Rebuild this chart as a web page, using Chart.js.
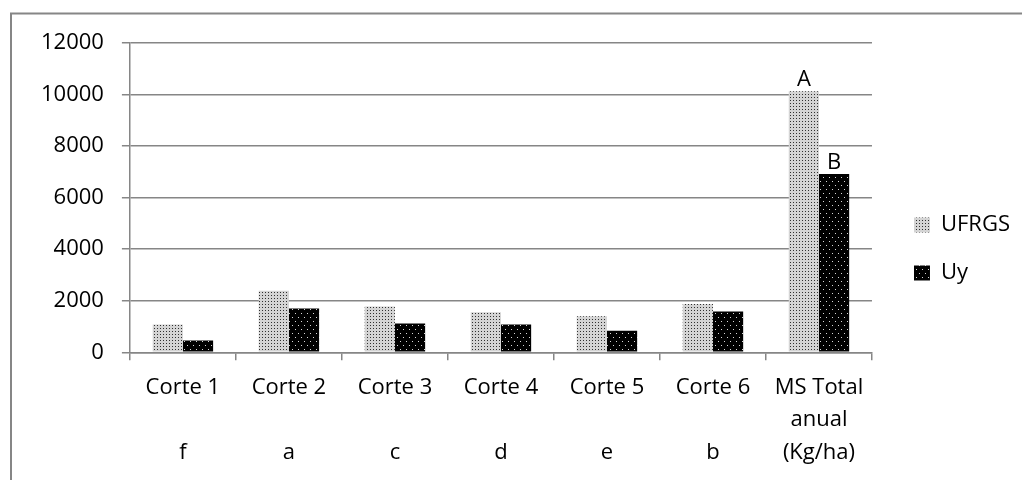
<!DOCTYPE html>
<html>
<head>
<meta charset="utf-8">
<script src="https://cdn.jsdelivr.net/npm/chart.js@4.4.1/dist/chart.umd.min.js"></script>
<style>
    html, body { margin: 0; padding: 0; background: #fff; }
</style>
</head>
<body>
<canvas id="myChart" width="1022" height="480"></canvas>
<script>
// data
const categories = [
    ['Corte 1', '', 'f'],
    ['Corte 2', '', 'a'],
    ['Corte 3', '', 'c'],
    ['Corte 4', '', 'd'],
    ['Corte 5', '', 'e'],
    ['Corte 6', '', 'b'],
    ['MS Total', 'anual', '(Kg/ha)']
];
const seriesNames = ['UFRGS', 'Uy'];
const ufrgsValues = [1080, 2390, 1780, 1550, 1400, 1870, 10130];
const uyValues = [460, 1700, 1120, 1080, 840, 1580, 6920];
const totalLetters = ['A', 'B'];
const yTicks = [0, 2000, 4000, 6000, 8000, 10000, 12000];

const FONT = "'Open Sans', sans-serif";
const GREY = '#868686';

const ctx = document.getElementById('myChart').getContext('2d');

// excel-like dotted fills
function dotPattern(w, h, bg, fg, dots) {
    const c = document.createElement('canvas');
    c.width = w;
    c.height = h;
    const g = c.getContext('2d');
    g.fillStyle = bg;
    g.fillRect(0, 0, w, h);
    g.fillStyle = fg;
    dots.forEach(([x, y]) => g.fillRect(x, y, 1, 1));
    return ctx.createPattern(c, 'repeat');
}

const lightDots = dotPattern(3, 3, '#d4d4d4', '#303030', [[1, 1]]);
const darkDots = dotPattern(6, 8, '#000000', '#d8d8d8', [[1, 1], [4, 5]]);

const frame = {
    id: 'frame',
    beforeDraw(chart) {
        const c = chart.ctx;
        c.save();
        c.strokeStyle = GREY;
        c.lineWidth = 2;
        c.beginPath();
        c.moveTo(11, chart.height);
        c.lineTo(11, 13.5);
        c.lineTo(chart.width, 13.5);
        c.stroke();
        c.restore();
    }
};

const letters = {
    id: 'letters',
    afterDatasetsDraw(chart) {
        const c = chart.ctx;
        const last = categories.length - 1;
        c.save();
        c.font = '22px ' + FONT;
        c.fillStyle = '#000';
        c.textAlign = 'center';
        c.textBaseline = 'alphabetic';
        totalLetters.forEach((t, i) => {
            const bar = chart.getDatasetMeta(i).data[last];
            c.fillText(t, bar.x, bar.y - 5);
        });
        c.restore();
    }
};

Chart.defaults.font.family = FONT;
Chart.defaults.font.size = 22;
Chart.defaults.color = '#000';

new Chart(ctx, {
    type: 'bar',
    data: {
        labels: categories,
        datasets: [{
            label: seriesNames[0],
            data: ufrgsValues,
            backgroundColor: lightDots,
            borderWidth: 0,
            categoryPercentage: 0.57,
            barPercentage: 1.0
        }, {
            label: seriesNames[1],
            data: uyValues,
            backgroundColor: darkDots,
            borderWidth: 0,
            categoryPercentage: 0.57,
            barPercentage: 1.0
        }]
    },
    options: {
        responsive: false,
        animation: false,
        layout: {
            padding: { left: 23, top: 43, right: 2, bottom: 0 }
        },
        plugins: {
            legend: {
                position: 'right',
                align: 'start',
                title: {
                    display: true,
                    text: '',
                    font: { size: 10, lineHeight: 1 },
                    padding: { top: 135, bottom: 0 }
                },
                labels: {
                    boxWidth: 16,
                    boxHeight: 15,
                    padding: 26,
                    font: { size: 22 }
                }
            },
            tooltip: { enabled: false }
        },
        scales: {
            x: {
                grid: {
                    display: true,
                    drawOnChartArea: false,
                    drawTicks: true,
                    tickLength: 8,
                    color: GREY,
                    lineWidth: 1.5
                },
                border: { display: true, color: GREY, width: 1.5 },
                ticks: {
                    padding: 11,
                    maxRotation: 0,
                    autoSkip: false,
                    font: { size: 22, lineHeight: 1.48 }
                }
            },
            y: {
                min: yTicks[0],
                max: yTicks[yTicks.length - 1],
                grid: {
                    color: GREY,
                    lineWidth: 1.5,
                    tickLength: 8
                },
                border: { display: true, color: GREY, width: 1.5 },
                ticks: {
                    stepSize: yTicks[1] - yTicks[0],
                    padding: 18,
                    font: { size: 22 },
                    callback: (v) => String(v)
                }
            },
            gap: {
                type: 'linear',
                position: 'right',
                display: true,
                grid: { display: false, drawTicks: false },
                border: { display: false },
                ticks: { display: false },
                afterFit(scale) { scale.width = 16; }
            }
        }
    },
    plugins: [frame, letters]
});
</script>
</body>
</html>
